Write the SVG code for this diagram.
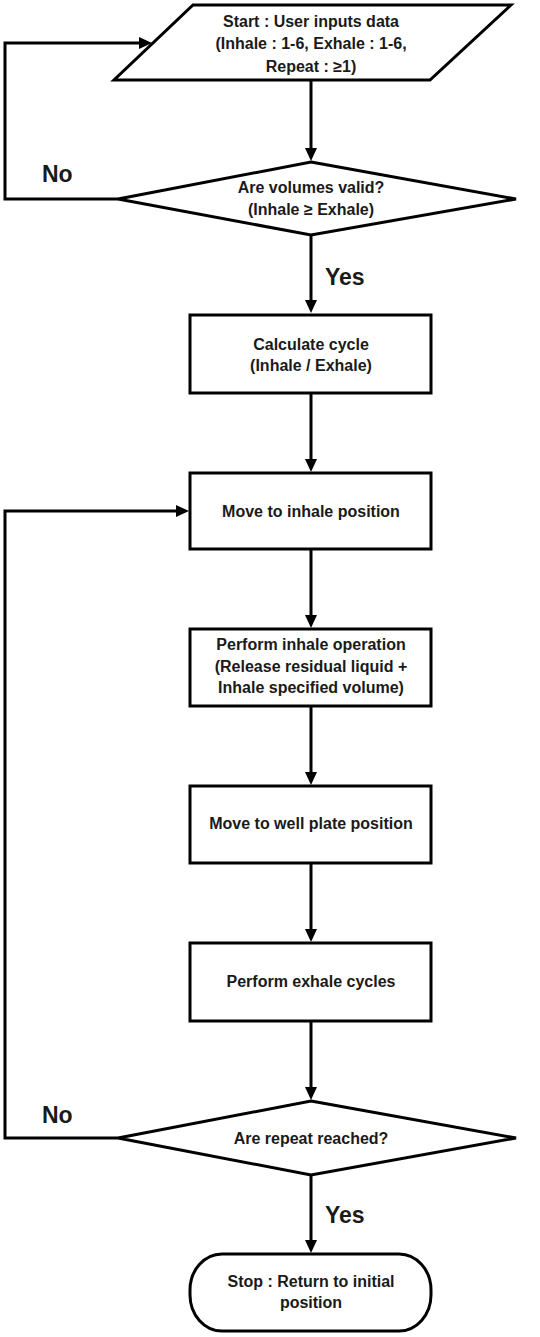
<svg xmlns="http://www.w3.org/2000/svg" width="540" height="1337" viewBox="0 0 540 1337">
<style>
.shape{fill:#fff;stroke:#000;stroke-width:3;stroke-linejoin:miter}
.conn{fill:none;stroke:#000;stroke-width:3;stroke-linejoin:miter}
.t{font-family:"Liberation Sans",Arial,sans-serif;font-weight:bold;font-size:16px;fill:#1a1a1a;text-anchor:middle}
.lbl{font-family:"Liberation Sans",Arial,sans-serif;font-weight:bold;font-size:23px;fill:#1a1a1a}
</style>
<defs>
<marker id="arr" markerUnits="userSpaceOnUse" markerWidth="13" markerHeight="12" refX="9" refY="6" orient="auto">
<path d="M0,0 L13,6 L0,12 z" fill="#000"/>
</marker>
</defs>
<rect width="540" height="1337" fill="#fff"/>
<g id="connectors">
<line class="conn" x1="311" y1="81" x2="311" y2="157" marker-end="url(#arr)"/>
<line class="conn" x1="311" y1="236" x2="311" y2="309" marker-end="url(#arr)"/>
<line class="conn" x1="311" y1="394" x2="311" y2="468" marker-end="url(#arr)"/>
<line class="conn" x1="311" y1="550" x2="311" y2="624" marker-end="url(#arr)"/>
<line class="conn" x1="311" y1="707" x2="311" y2="781" marker-end="url(#arr)"/>
<line class="conn" x1="311" y1="864" x2="311" y2="938" marker-end="url(#arr)"/>
<line class="conn" x1="311" y1="1022" x2="311" y2="1096" marker-end="url(#arr)"/>
<line class="conn" x1="311" y1="1176" x2="311" y2="1249" marker-end="url(#arr)"/>
<polyline class="conn" points="118,199 5,199 5,43 148,43" marker-end="url(#arr)"/>
<polyline class="conn" points="118,1138 5,1138 5,511 185,511" marker-end="url(#arr)"/>
<text class="lbl" x="42" y="182">No</text>
<text class="lbl" x="325" y="285">Yes</text>
<text class="lbl" x="42" y="1123">No</text>
<text class="lbl" x="325" y="1223">Yes</text>
</g>
<g id="start">
<polygon class="shape" points="193,5 511,5 430,80 114,80"/>
<text class="t" x="311" y="27">Start : User inputs data</text>
<text class="t" x="311" y="49">(Inhale : 1-6, Exhale : 1-6,</text>
<text class="t" x="311" y="72">Repeat : ≥1)</text>
</g>
<g id="check-volumes">
<polygon class="shape" points="311,162 516,199 311,235 118,199"/>
<text class="t" x="311" y="193">Are volumes valid?</text>
<text class="t" x="311" y="215">(Inhale ≥ Exhale)</text>
</g>
<g id="calc-cycle">
<rect class="shape" x="190" y="315" width="241" height="78"/>
<text class="t" x="311" y="350">Calculate cycle</text>
<text class="t" x="311" y="371">(Inhale / Exhale)</text>
</g>
<g id="move-inhale">
<rect class="shape" x="190" y="473" width="241" height="76"/>
<text class="t" x="311" y="517">Move to inhale position</text>
</g>
<g id="inhale-op">
<rect class="shape" x="190" y="629" width="241" height="77"/>
<text class="t" x="311" y="650">Perform inhale operation</text>
<text class="t" x="311" y="672">(Release residual liquid +</text>
<text class="t" x="311" y="693">Inhale specified volume)</text>
</g>
<g id="move-well">
<rect class="shape" x="190" y="786" width="241" height="77"/>
<text class="t" x="311" y="829">Move to well plate position</text>
</g>
<g id="exhale-cycles">
<rect class="shape" x="190" y="943" width="241" height="78"/>
<text class="t" x="311" y="987">Perform exhale cycles</text>
</g>
<g id="check-repeat">
<polygon class="shape" points="311,1101 516,1138 311,1175 118,1138"/>
<text class="t" x="311" y="1144">Are repeat reached?</text>
</g>
<g id="stop">
<rect class="shape" x="190" y="1254" width="241" height="77" rx="32" ry="36"/>
<text class="t" x="311" y="1287">Stop : Return to initial</text>
<text class="t" x="311" y="1308">position</text>
</g>
</svg>
